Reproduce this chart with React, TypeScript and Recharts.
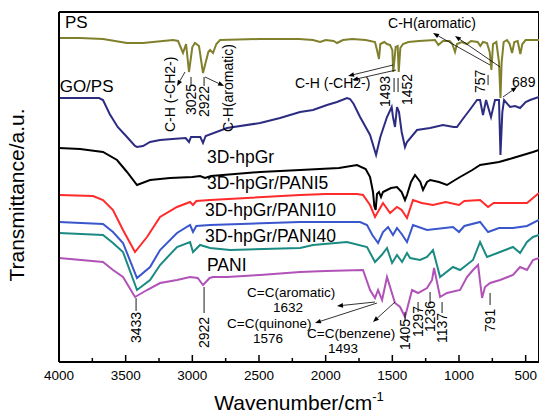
import React from 'react';
import { LineChart, Line, XAxis, YAxis, ReferenceLine, ReferenceDot } from 'recharts';

const FONT = '"Liberation Sans", Arial, Helvetica, sans-serif';

const majorTicks = [4000, 3500, 3000, 2500, 2000, 1500, 1000, 500];
const minorTicks = [3750, 3250, 2750, 2250, 1750, 1250, 750];

// [wavenumber, transmittance (a.u., offset-stacked)]
const psPts: [number, number][] = [
  [4000, 324], [3842, 324], [3670, 323], [3490, 319], [3370, 319], [3145, 322], [3107, 321], [3070, 309],
  [3047, 318], [3025, 290], [3000, 315], [2980, 319], [2950, 316], [2920, 289], [2880, 310], [2867, 312],
  [2845, 309], [2820, 318], [2792, 322], [2500, 323], [2200, 323], [2095, 322], [2042, 320], [2000, 322],
  [1940, 321], [1915, 319], [1870, 322], [1800, 323], [1700, 322], [1630, 320], [1615, 312], [1600, 303],
  [1590, 318], [1560, 320], [1540, 318], [1517, 317], [1500, 312], [1493, 290], [1475, 315], [1460, 316],
  [1452, 290], [1440, 314], [1420, 318], [1380, 320], [1300, 321], [1180, 322], [1155, 317], [1120, 321],
  [1070, 321], [1050, 318], [1030, 310], [1015, 318], [980, 320], [940, 318], [910, 321], [860, 320],
  [840, 316], [820, 320], [790, 319], [770, 310], [757, 292], [745, 318], [720, 320], [700, 300],
  [689, 264], [680, 300], [665, 320], [640, 322], [620, 318], [602, 309], [585, 320], [560, 321],
  [540, 308], [525, 318], [500, 322], [450, 322], [400, 322],
];

const gopsPts: [number, number][] = [
  [4000, 264], [3842, 264], [3700, 264], [3670, 262], [3620, 248], [3560, 235], [3490, 225], [3430, 216],
  [3415, 215], [3370, 216], [3317, 220], [3242, 222], [3150, 223], [3050, 224], [3025, 220], [3010, 225],
  [2940, 225], [2920, 219], [2900, 226], [2740, 234], [2492, 239], [2342, 244], [2192, 250], [2095, 252],
  [1990, 257], [1915, 260], [1840, 264], [1817, 263], [1790, 258], [1742, 245], [1667, 227], [1622, 207],
  [1590, 225], [1540, 245], [1505, 255], [1495, 245], [1480, 235], [1465, 255], [1450, 250], [1430, 230],
  [1405, 215], [1390, 220], [1315, 232], [1217, 234], [1120, 237], [1040, 235], [1015, 235], [977, 242],
  [920, 252], [865, 262], [842, 262], [820, 247], [797, 262], [760, 245], [730, 262], [700, 262],
  [689, 207], [675, 250], [662, 262], [617, 255], [580, 256], [542, 254], [500, 260], [467, 262], [400, 265],
];

const hpgrPts: [number, number][] = [
  [4000, 214], [3842, 213], [3670, 210], [3565, 202], [3490, 190], [3415, 177], [3317, 182], [3167, 184],
  [3000, 185], [2942, 186], [2905, 184], [2860, 186], [2492, 190], [2192, 192], [1900, 194], [1765, 197],
  [1700, 193], [1667, 185], [1645, 170], [1635, 156], [1625, 152], [1615, 168], [1600, 170], [1585, 165],
  [1570, 170], [1540, 172], [1510, 174], [1465, 175], [1430, 170], [1405, 162], [1390, 167], [1360, 180],
  [1330, 187], [1290, 180], [1270, 172], [1240, 180], [1215, 182], [1150, 180], [1090, 177], [1030, 182],
  [992, 185], [900, 192], [842, 197], [700, 200], [595, 204], [445, 210], [400, 212],
];

const pani10Pts: [number, number][] = [
  [4000, 167], [3745, 166], [3670, 162], [3595, 152], [3520, 132], [3430, 110], [3340, 125], [3242, 145],
  [3115, 155], [3017, 160], [2995, 157], [2970, 161], [2867, 162], [2192, 167], [2000, 168], [1765, 168],
  [1720, 167], [1667, 157], [1630, 145], [1600, 152], [1570, 159], [1517, 149], [1465, 155], [1430, 152],
  [1390, 144], [1345, 162], [1280, 159], [1195, 157], [1100, 160], [1000, 157], [960, 161], [842, 162],
  [782, 155], [740, 159], [595, 159], [490, 159], [400, 169],
];

const pani40Pts: [number, number][] = [
  [4000, 140], [3670, 138], [3595, 130], [3520, 119], [3415, 84], [3317, 95], [3242, 112], [3115, 129],
  [3017, 137], [2995, 130], [2970, 136], [2867, 137], [2192, 140], [2000, 140], [1742, 140], [1690, 137],
  [1650, 127], [1607, 119], [1570, 130], [1532, 135], [1495, 127], [1465, 134], [1430, 128], [1390, 120],
  [1345, 137], [1240, 132], [1045, 135], [1000, 130], [960, 136], [842, 140], [782, 130], [700, 134],
  [595, 134], [490, 136], [400, 142],
];

const tealPts: [number, number][] = [
  [4000, 129], [3670, 127], [3595, 119], [3520, 110], [3415, 72], [3317, 82], [3242, 97], [3115, 115],
  [3017, 120], [2995, 110], [2942, 117], [2867, 114], [2717, 112], [2192, 114], [2095, 117], [1840, 120],
  [1690, 115], [1630, 100], [1580, 107], [1540, 114], [1502, 99], [1465, 107], [1427, 100], [1390, 109],
  [1367, 104], [1292, 102], [1240, 105], [1195, 112], [1142, 85], [1045, 95], [992, 92], [895, 102],
  [842, 120], [790, 105], [692, 110], [595, 115], [542, 109], [490, 120], [445, 125], [400, 127],
];

const paniPts: [number, number][] = [
  [4000, 104], [3670, 100], [3595, 92], [3520, 85], [3430, 65], [3340, 72], [3242, 79], [3115, 82],
  [3017, 85], [2960, 84], [2920, 77], [2870, 84], [2845, 85], [2740, 85], [2492, 87], [2192, 90],
  [2000, 91], [1720, 92], [1667, 72], [1630, 64], [1607, 72], [1577, 62], [1540, 85], [1480, 59],
  [1442, 55], [1405, 45], [1352, 72], [1307, 69], [1240, 74], [1202, 82], [1187, 94], [1142, 65],
  [1090, 69], [992, 72], [940, 85], [895, 92], [857, 97], [827, 64], [805, 75], [767, 79], [692, 82],
  [595, 87], [542, 95], [490, 92], [445, 102], [400, 104],
];

const seriesNames = ['PS', 'GO/PS', '3D-hpGr', '3D-hpGr/PANI5', '3D-hpGr/PANI10', '3D-hpGr/PANI40', 'PANI'];
const seriesColors = ['#80802c', '#2c2c82', '#000000', '#ff2a2a', '#3a56cc', '#1a8a82', '#b052b8'];
const seriesPts = [psPts, gopsPts, hpgrPts, pani10Pts, pani40Pts, tealPts, paniPts];

// horizontal labels: [text, wavenumber, value, fontSize]
const hLabels: [string, number, number, number][] = [
  ['PS', 3955, 334, 17], ['GO/PS', 3995, 270, 17],
  ['3D-hpGr', 2890, 199, 17.5], ['3D-hpGr/PANI5', 2890, 173, 17.5], ['3D-hpGr/PANI10', 2905, 146, 17.5],
  ['3D-hpGr/PANI40', 2905, 120, 17.5], ['PANI', 2890, 91, 17.5],
  ['C-H(aromatic)', 1532, 334, 14], ['C-H (-CH2-)', 2230, 274, 14], ['689', 602, 275, 14],
  ['C=C(aromatic)', 2590, 65, 13.5], ['1632', 2395, 50, 13.5], ['C=C(quinone)', 2740, 34, 13.5],
  ['1576', 2545, 19, 13.5], ['C=C(benzene)', 2140, 24, 13.5], ['1493', 1982, 9, 13.5],
];

// rotated labels: [text, wavenumber, bottom value]
const vLabels: [string, number, number][] = [
  ['C-H (-CH2-)', 3167, 230], ['3025', 3010, 247], ['2922', 2912, 245], ['C-H(aromatic)', 2732, 230],
  ['1493', 1555, 255], ['1452', 1390, 257], ['757', 842, 269],
  ['3433', 3422, 19], ['2922', 2912, 14], ['1405', 1405, 12], ['1297', 1307, 25], ['1236', 1217, 30],
  ['1137', 1127, 19], ['791', 767, 30],
];

// leader lines: [wavenumber, v1, v2]
const leaders: [number, number, number][] = [
  [3010, 285, 276], [2912, 285, 276], [1487, 284, 270], [1457, 284, 270], [782, 287, 277],
  [3422, 64, 51], [2912, 75, 49], [1405, 50, 41], [1307, 60, 50], [1217, 70, 58], [1127, 60, 49], [767, 69, 57],
];

// arrows: [fromW, fromV, toW, toV]
const arrows: [number, number, number, number][] = [
  [3055, 290, 3115, 276], [2905, 285, 2762, 276], [767, 297, 1195, 329], [692, 295, 1030, 326],
  [1495, 297, 1832, 286], [1472, 292, 1802, 282], [670, 265, 565, 275],
  [1630, 60, 1915, 56], [1615, 59, 2080, 39], [1480, 60, 1645, 40],
];

const AxisTick = (props: any) => {
  const { x, y, payload } = props;
  const v = payload.value;
  const major = v % 500 === 0;
  return (
    <g>
      <line x1={x} x2={x} y1={y} y2={y - (major ? 7 : 4)} stroke="#000" strokeWidth={1.5} />
      {major && (
        <text x={x} y={y + 18} textAnchor="middle" fontSize={13.5} fontFamily={FONT} fill="#000">
          {v}
        </text>
      )}
    </g>
  );
};

const arrowShape = (p: any) => {
  const { x1, y1, x2, y2 } = p;
  const ang = Math.atan2(y2 - y1, x2 - x1);
  const L = 6, W = 2.3;
  const bx = x2 - L * Math.cos(ang);
  const by = y2 - L * Math.sin(ang);
  const pts = `${x2},${y2} ${bx + W * Math.sin(ang)},${by - W * Math.cos(ang)} ${bx - W * Math.sin(ang)},${by + W * Math.cos(ang)}`;
  return (
    <g>
      <line x1={x1} y1={y1} x2={bx} y2={by} stroke="#000" strokeWidth={0.8} />
      <polygon points={pts} fill="#000" />
    </g>
  );
};

export default function App() {
  return (
    <div style={{ position: 'absolute', left: 0, top: 0, width: 539, height: 416, background: '#fff' }}>
      <LineChart width={539} height={416} margin={{ top: 12, right: 0, bottom: 24, left: 0 }}>
        <XAxis
          type="number"
          dataKey="x"
          domain={[400, 4000]}
          reversed
          allowDataOverflow
          ticks={[...majorTicks, ...minorTicks].sort((a, b) => b - a)}
          interval={0}
          tickSize={0}
          tickMargin={0}
          tickLine={false}
          tick={<AxisTick />}
          height={30}
          axisLine={{ stroke: '#000', strokeWidth: 2 }}
          label={(p: any) => {
            const vb = p.viewBox || { x: 59, y: 362, width: 480 };
            return (
              <text x={vb.x + vb.width / 2} y={410} textAnchor="middle" fontSize={21} fontFamily={FONT} fill="#000">
                Wavenumber/cm
                <tspan dy={-9} fontSize={13}>-1</tspan>
              </text>
            );
          }}
        />
        <YAxis
          type="number"
          domain={[0, 350]}
          allowDataOverflow
          width={59}
          tick={false}
          tickLine={false}
          axisLine={{ stroke: '#000', strokeWidth: 2 }}
          label={(p: any) => {
            const vb = p.viewBox || { x: 0, y: 12, height: 350 };
            const cy = vb.y + vb.height / 2 + 8;
            return (
              <text x={24} y={cy} transform={`rotate(-90 24 ${cy})`} textAnchor="middle" fontSize={21} fontFamily={FONT} fill="#000">
                Transmittance/a.u.
              </text>
            );
          }}
        />
        <ReferenceLine y={350} stroke="#000" strokeWidth={2} ifOverflow="visible" />
        <ReferenceLine x={400} stroke="#000" strokeWidth={2} ifOverflow="visible" />
        {seriesPts.map((pts, i) => (
          <Line
            key={seriesNames[i]}
            name={seriesNames[i]}
            data={pts.map(([x, y]) => ({ x, y }))}
            dataKey="y"
            type="linear"
            stroke={seriesColors[i]}
            strokeWidth={2}
            dot={false}
            activeDot={false}
            isAnimationActive={false}
          />
        ))}
        {leaders.map(([w, a, b], i) => (
          <ReferenceLine key={'ld' + i} segment={[{ x: w, y: a }, { x: w, y: b }]} stroke="#000" strokeWidth={0.9} ifOverflow="visible" />
        ))}
        {arrows.map(([w1, v1, w2, v2], i) => (
          <ReferenceLine key={'ar' + i} segment={[{ x: w1, y: v1 }, { x: w2, y: v2 }]} ifOverflow="visible" shape={arrowShape} />
        ))}
        {hLabels.map(([t, w, v, fs], i) => (
          <ReferenceDot
            key={'hl' + i}
            x={w}
            y={v}
            r={0}
            ifOverflow="visible"
            shape={(p: any) => (
              <text x={p.cx} y={p.cy} fontSize={fs} fontFamily={FONT} fill="#000">
                {t}
              </text>
            )}
          />
        ))}
        {vLabels.map(([t, w, v], i) => (
          <ReferenceDot
            key={'vl' + i}
            x={w}
            y={v}
            r={0}
            ifOverflow="visible"
            shape={(p: any) => (
              <text
                x={p.cx}
                y={p.cy}
                transform={`rotate(-90 ${p.cx} ${p.cy})`}
                dominantBaseline="central"
                fontSize={14}
                fontFamily={FONT}
                fill="#000"
              >
                {t}
              </text>
            )}
          />
        ))}
      </LineChart>
    </div>
  );
}
